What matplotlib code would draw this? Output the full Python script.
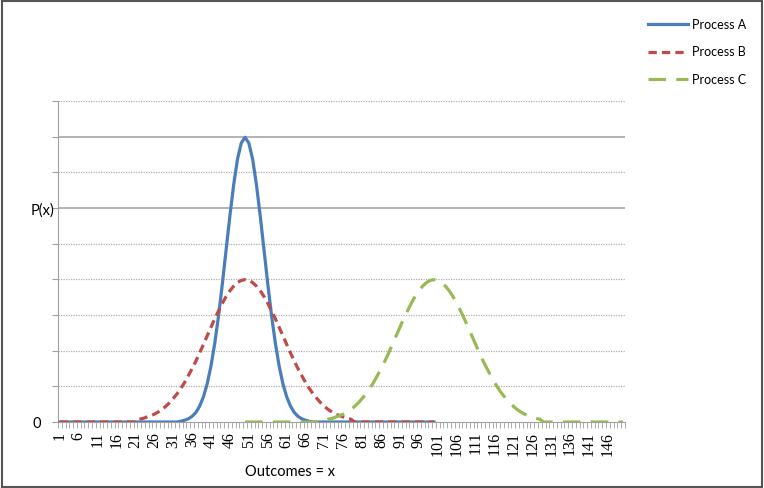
import numpy as np
import matplotlib.pyplot as plt
from matplotlib.patches import Rectangle

# outcomes on the category axis
outcomes = np.arange(1, 151)
tick_labels = [str(v) for v in range(1, 151, 5)]

# Process A: defined for x = 1..100, non-zero part starts at x = 33
a_range = (1, 100)
a_start = 33
a_vals = [0.0002, 0.0005, 0.0009, 0.0016, 0.0027, 0.0045, 0.0071, 0.0108, 0.0158,
          0.0222, 0.0299, 0.0388, 0.0484, 0.0579, 0.0666, 0.0737, 0.0782, 0.0798,
          0.0782, 0.0737, 0.0666, 0.0579, 0.0484, 0.0388, 0.0299, 0.0222, 0.0158,
          0.0108, 0.0071, 0.0045, 0.0027, 0.0016, 0.0009, 0.0005, 0.0002]

# Process B: defined for x = 1..100, non-zero part starts at x = 22
b_range = (1, 100)
b_start = 22
b_vals = [0.0008, 0.0010, 0.0014, 0.0018, 0.0022, 0.0028, 0.0035, 0.0044, 0.0054,
          0.0066, 0.0079, 0.0094, 0.0111, 0.0130, 0.0150, 0.0171, 0.0194, 0.0218,
          0.0242, 0.0266, 0.0290, 0.0312, 0.0333, 0.0352, 0.0368, 0.0381, 0.0391,
          0.0397, 0.0399, 0.0397, 0.0391, 0.0381, 0.0368, 0.0352, 0.0333, 0.0312,
          0.0290, 0.0266, 0.0242, 0.0218, 0.0194, 0.0171, 0.0150, 0.0130, 0.0111,
          0.0094, 0.0079, 0.0066, 0.0054, 0.0044, 0.0035, 0.0028, 0.0022, 0.0018,
          0.0014, 0.0010, 0.0008]

# Process C: defined for x = 50..150, non-zero part starts at x = 72
c_range = (50, 150)
c_start = 72
c_vals = [0.0008, 0.0010, 0.0014, 0.0018, 0.0022, 0.0028, 0.0035, 0.0044, 0.0054,
          0.0066, 0.0079, 0.0094, 0.0111, 0.0130, 0.0150, 0.0171, 0.0194, 0.0218,
          0.0242, 0.0266, 0.0290, 0.0312, 0.0333, 0.0352, 0.0368, 0.0381, 0.0391,
          0.0397, 0.0399, 0.0397, 0.0391, 0.0381, 0.0368, 0.0352, 0.0333, 0.0312,
          0.0290, 0.0266, 0.0242, 0.0218, 0.0194, 0.0171, 0.0150, 0.0130, 0.0111,
          0.0094, 0.0079, 0.0066, 0.0054, 0.0044, 0.0035, 0.0028, 0.0022, 0.0018,
          0.0014, 0.0010, 0.0008]


def build(rng, start, vals):
    x = np.arange(rng[0], rng[1] + 1)
    y = np.zeros(len(x))
    i0 = start - rng[0]
    y[i0:i0 + len(vals)] = vals
    return x, y


fig = plt.figure(figsize=(7.64, 4.88), dpi=100)
ax = fig.add_axes([0.0759, 0.1352, 0.742, 0.658])

# gridlines (0.08 and 0.06 appear solid, the rest dotted)
for g in np.arange(0.01, 0.091, 0.01):
    if round(g, 2) in (0.06, 0.08):
        ax.axhline(g, color='#a6a6a6', lw=1.2, zorder=0)
    else:
        ax.axhline(g, color='#b0b0b0', lw=0.9, ls=(0, (1, 1)), zorder=0)

xa, ya = build(a_range, a_start, a_vals)
xb, yb = build(b_range, b_start, b_vals)
xc, yc = build(c_range, c_start, c_vals)
ax.plot(xa, ya, color='#4a7ebb', lw=2.3, label='Process A', zorder=3)
ax.plot(xb, yb, color='#be4b48', lw=2.3, dashes=(2.6, 1.6), label='Process B', zorder=3)
ax.plot(xc, yc, color='#98b954', lw=2.3, dashes=(5.5, 3.2), label='Process C', zorder=3)

ax.set_xlim(0.5, 150.5)
ax.set_ylim(0, 0.09)

for s in ['top', 'right']:
    ax.spines[s].set_visible(False)
ax.spines['left'].set_color('#a0a0a0')
ax.spines['bottom'].set_color('#a0a0a0')

ax.set_xticks(np.arange(1, 151, 5))
ax.set_xticklabels(tick_labels, rotation=90, family='Liberation Serif', fontsize=11.5)
ax.set_xticks(np.arange(0.5, 151, 1), minor=True)
ax.tick_params(axis='x', which='major', length=0, pad=7)
ax.tick_params(axis='x', which='minor', length=4, color='#a0a0a0', direction='out')

ax.set_yticks(np.arange(0, 0.091, 0.01))
ax.set_yticklabels(['0'] + [''] * 9, family='Lato', fontsize=10.5)
ax.tick_params(axis='y', length=4, color='#a0a0a0', pad=8)

ax.set_xlabel('Outcomes = x', family='Lato', fontsize=10.5)
ax.xaxis.set_label_coords(0.41, -0.135)
fig.text(0.056, 0.568, 'P(x)', family='Lato', fontsize=10.5, ha='center', va='center')

fig.legend(loc='upper left', bbox_to_anchor=(0.834, 0.985), frameon=False,
           prop={'family': 'Lato', 'size': 9}, handlelength=3.2,
           handletextpad=0.25, labelspacing=1.25)

fig.add_artist(Rectangle((0.002, 0.003), 0.995, 0.994, transform=fig.transFigure,
                         fill=False, edgecolor='#555555', lw=1.5))

fig.savefig('out.png', dpi=100)
